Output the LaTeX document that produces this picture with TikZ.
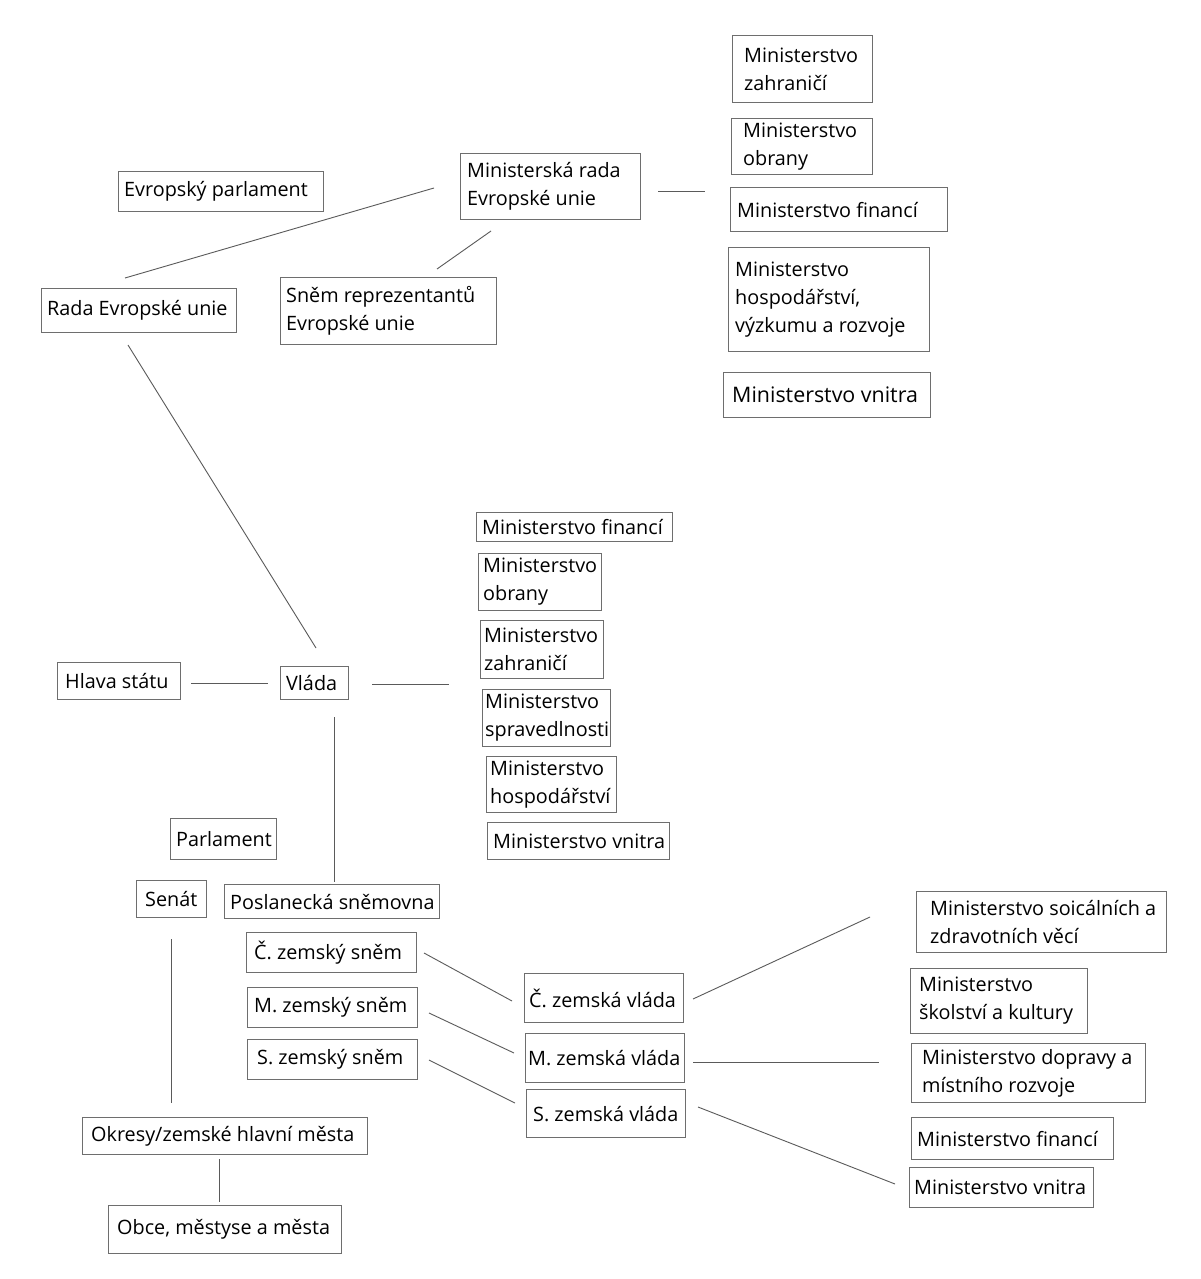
\documentclass[tikz,border=0pt]{standalone}
\usepackage{fontspec}
\setmainfont{Open Sans}
\definecolor{boxgray}{HTML}{6E6E6E}
\definecolor{linegray}{HTML}{5A5A5A}
\newcommand\fsn{\fontsize{19.8}{28}\selectfont}
\tikzset{
  box/.style={draw=boxgray, line width=1.1pt, inner sep=0pt, rectangle},
  txt/.style={inner sep=0pt, align=left, font=\fsn, text=black},
  conn/.style={draw=linegray, line width=0.9pt}
}
\newcommand\bx[7]{%
  \pgfmathsetmacro\bxw{#4-#2}\pgfmathsetmacro\bxh{#5-#3}%
  \node[box, minimum width=\bxw pt, minimum height=\bxh pt, anchor=north west] (#1) at (#2,#3) {};
  \node[txt, anchor=west] (#1-t) at ([xshift=#6pt]#1.west) {#7};}
\begin{document}
\begin{tikzpicture}[x=1pt,y=-1pt]
\useasboundingbox[fill=white] (0,0) rectangle (1200,1279);
% top right column
\bx{tzah}{732}{35}{872}{102}{12}{Ministerstvo\\zahraničí}
\bx{tobr}{731}{118}{872}{174}{12}{Ministerstvo\\obrany}
\bx{tfin}{730}{187}{947}{231}{7}{Ministerstvo financí}
\bx{thos}{728}{247}{929}{351}{7}{Ministerstvo\\hospodářství,\\výzkumu a rozvoje}
\bx{tvni}{723}{372}{930}{417}{9}{{\fontsize{21.4}{28}\selectfont Ministerstvo vnitra}}
% EU
\bx{evp}{118}{171}{323}{211}{6}{Evropský parlament}
\bx{mreu}{460}{153}{640}{219}{7}{Ministerská rada\\Evropské unie}
\bx{reu}{41}{288}{236}{332}{6}{Rada Evropské unie}
\bx{sneu}{280}{277}{496}{344}{6}{Sněm reprezentantů\\Evropské unie}
% middle ministries
\bx{mfin}{476}{512}{672}{541}{6}{Ministerstvo financí}
\bx{mobr}{478}{553}{601}{610}{5}{Ministerstvo\\obrany}
\bx{mzah}{480}{620}{603}{678}{4}{Ministerstvo\\zahraničí}
\bx{mspr}{482}{689}{610}{746}{3}{Ministerstvo\\spravedlnosti}
\bx{mhos}{486}{756}{616}{812}{4}{Ministerstvo\\hospodářství}
\bx{mvni}{487}{822}{669}{859}{6}{Ministerstvo vnitra}
% state
\bx{hlava}{57}{662}{180}{699}{8}{Hlava státu}
\bx{vlada}{280}{666}{348}{699}{6}{Vláda}
\bx{parl}{170}{818}{276}{859}{6}{Parlament}
\bx{senat}{136}{880}{206}{917}{9}{Senát}
\bx{posl}{224}{884}{439}{918}{6}{Poslanecká sněmovna}
\bx{csnem}{246}{932}{416}{972}{8}{Č. zemský sněm}
\bx{msnem}{247}{987}{417}{1027}{7}{M. zemský sněm}
\bx{ssnem}{247}{1039}{417}{1079}{10}{S. zemský sněm}
\bx{cvl}{524}{973}{683}{1022}{5}{Č. zemská vláda}
\bx{mvl}{525}{1033}{684}{1082}{3}{M. zemská vláda}
\bx{svl}{526}{1089}{685}{1137}{7}{S. zemská vláda}
\bx{okr}{82}{1117}{367}{1154}{9}{Okresy/zemské hlavní města}
\bx{obce}{108}{1205}{341}{1253}{9}{Obce, městyse a města}
% land ministries
\bx{lsoc}{916}{891}{1166}{952}{14}{Ministerstvo soicálních a\\zdravotních věcí}
\bx{lsko}{910}{968}{1087}{1033}{9}{Ministerstvo\\školství a kultury}
\bx{ldop}{911}{1043}{1145}{1102}{11}{Ministerstvo dopravy a\\místního rozvoje}
\bx{lfin}{911}{1117}{1113}{1159}{6}{Ministerstvo financí}
\bx{lvni}{909}{1167}{1093}{1207}{5}{Ministerstvo vnitra}
% connector end points
\coordinate (a1) at (658,191); \coordinate (a2) at (705,191);
\coordinate (b1) at (434,188); \coordinate (b2) at (125,278);
\coordinate (c1) at (491,231); \coordinate (c2) at (437,269);
\coordinate (d1) at (128,345); \coordinate (d2) at (316,648);
\coordinate (e1) at (191,683); \coordinate (e2) at (268,683);
\coordinate (f1) at (372,684); \coordinate (f2) at (449,684);
\coordinate (g1) at (334,717); \coordinate (g2) at (334,882);
\coordinate (h1) at (171,939); \coordinate (h2) at (171,1103);
\coordinate (i1) at (219,1159); \coordinate (i2) at (219,1202);
\coordinate (j1) at (424,953); \coordinate (j2) at (512,1001);
\coordinate (k1) at (429,1013); \coordinate (k2) at (514,1053);
\coordinate (m1) at (429,1060); \coordinate (m2) at (515,1103);
\coordinate (n1) at (693,999); \coordinate (n2) at (870,917);
\coordinate (o1) at (693,1062); \coordinate (o2) at (879,1062);
\coordinate (p1) at (698,1107); \coordinate (p2) at (895,1184);
\foreach \u/\v in {a1/a2,b1/b2,c1/c2,d1/d2,e1/e2,f1/f2,g1/g2,h1/h2,i1/i2,j1/j2,k1/k2,m1/m2,n1/n2,o1/o2,p1/p2}
  \draw[conn] (\u) -- (\v);
\end{tikzpicture}
\end{document}
